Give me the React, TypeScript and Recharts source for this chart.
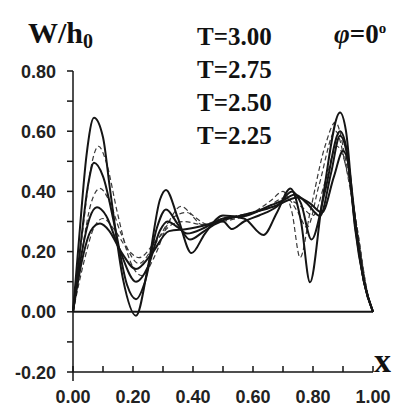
import { LineChart, Line, XAxis, YAxis, ReferenceLine } from "recharts";

// solid curves, ordered from the most oscillating to the flattest
const aX = [0, 0.02, 0.045, 0.07, 0.1, 0.123, 0.167, 0.21, 0.25, 0.29, 0.31, 0.35, 0.395, 0.44, 0.5, 0.57, 0.635, 0.68, 0.725, 0.76, 0.79, 0.83, 0.89, 0.91, 0.94, 0.97, 1.0];
const aY = [0, 0.24, 0.52, 0.645, 0.58, 0.41, 0.107, -0.013, 0.15, 0.373, 0.405, 0.31, 0.195, 0.26, 0.32, 0.31, 0.255, 0.33, 0.41, 0.3, 0.098, 0.36, 0.662, 0.6, 0.28, 0.1, 0];

const bX = [0, 0.025, 0.05, 0.07, 0.1, 0.14, 0.18, 0.21, 0.24, 0.28, 0.31, 0.35, 0.39, 0.44, 0.5, 0.53, 0.57, 0.62, 0.68, 0.73, 0.76, 0.795, 0.84, 0.89, 0.91, 0.94, 0.97, 1.0];
const bY = [0, 0.22, 0.42, 0.495, 0.45, 0.28, 0.09, 0.042, 0.1, 0.28, 0.34, 0.29, 0.24, 0.27, 0.3, 0.275, 0.3, 0.32, 0.35, 0.4, 0.36, 0.24, 0.4, 0.6, 0.55, 0.29, 0.1, 0];

const cX = [0, 0.03, 0.055, 0.08, 0.11, 0.15, 0.21, 0.25, 0.29, 0.315, 0.35, 0.38, 0.44, 0.5, 0.58, 0.65, 0.7, 0.74, 0.78, 0.823, 0.86, 0.89, 0.91, 0.94, 0.97, 1.0];
const cY = [0, 0.2, 0.31, 0.347, 0.32, 0.22, 0.1, 0.15, 0.27, 0.3, 0.28, 0.26, 0.28, 0.31, 0.32, 0.35, 0.37, 0.39, 0.36, 0.318, 0.46, 0.585, 0.54, 0.3, 0.1, 0];

const dX = [0, 0.03, 0.06, 0.09, 0.12, 0.16, 0.21, 0.26, 0.32, 0.38, 0.45, 0.52, 0.6, 0.67, 0.75, 0.79, 0.83, 0.87, 0.9, 0.92, 0.94, 0.97, 1.0];
const dY = [0, 0.17, 0.27, 0.293, 0.27, 0.2, 0.142, 0.19, 0.268, 0.275, 0.29, 0.31, 0.33, 0.35, 0.38, 0.36, 0.33, 0.45, 0.534, 0.48, 0.31, 0.1, 0];

// dashed curves
const eX = [0, 0.03, 0.06, 0.085, 0.11, 0.15, 0.19, 0.23, 0.27, 0.32, 0.36, 0.4, 0.45, 0.52, 0.6, 0.66, 0.7, 0.73, 0.757, 0.79, 0.84, 0.875, 0.91, 0.95, 0.98, 1.0];
const eY = [0, 0.25, 0.48, 0.55, 0.5, 0.32, 0.17, 0.12, 0.18, 0.3, 0.35, 0.32, 0.29, 0.31, 0.33, 0.37, 0.4, 0.33, 0.18, 0.33, 0.55, 0.63, 0.5, 0.26, 0.07, 0];

const fX = [0, 0.03, 0.06, 0.09, 0.12, 0.16, 0.22, 0.27, 0.33, 0.38, 0.43, 0.5, 0.58, 0.65, 0.71, 0.75, 0.78, 0.82, 0.875, 0.91, 0.95, 0.98, 1.0];
const fY = [0, 0.2, 0.36, 0.41, 0.37, 0.26, 0.16, 0.22, 0.31, 0.33, 0.29, 0.3, 0.32, 0.35, 0.38, 0.33, 0.28, 0.42, 0.6, 0.48, 0.25, 0.07, 0];

const gX = [0, 0.04, 0.07, 0.1, 0.14, 0.18, 0.22, 0.28, 0.33, 0.37, 0.43, 0.5, 0.6, 0.67, 0.72, 0.76, 0.8, 0.84, 0.88, 0.92, 0.95, 0.98, 1.0];
const gY = [0, 0.18, 0.28, 0.31, 0.27, 0.21, 0.18, 0.24, 0.29, 0.3, 0.29, 0.31, 0.33, 0.35, 0.37, 0.35, 0.32, 0.43, 0.55, 0.44, 0.26, 0.07, 0];

const xTicks = [0, 0.1, 0.2, 0.3, 0.4, 0.5, 0.6, 0.7, 0.8, 0.9, 1.0];
const yTicks = [-0.2, -0.1, 0, 0.1, 0.2, 0.3, 0.4, 0.5, 0.6, 0.7, 0.8];
const legendLabels = ["T=3.00", "T=2.75", "T=2.50", "T=2.25"];

const pts = (xs: number[], ys: number[]) => xs.map((x, i) => ({ x, y: ys[i] }));

const solid = [pts(aX, aY), pts(bX, bY), pts(cX, cY), pts(dX, dY)];
const dashed = [pts(eX, eY), pts(fX, fY), pts(gX, gY)];

const INK = "#151515";
const tickFont = "'Liberation Sans', Arial, sans-serif";
const serif = "'Liberation Serif', 'Times New Roman', serif";

const isMajor = (v: number) => Math.round(v * 10) % 2 === 0;

function YTick({ x, y, payload }: any) {
  const v = payload.value as number;
  return (
    <g>
      <line x1={x - 6} x2={x} y1={y} y2={y} stroke={INK} strokeWidth={1.5} />
      {isMajor(v) && (
        <text x={x - 17} y={y + 6.5} textAnchor="end" fontFamily={tickFont} fontWeight="bold" fontSize={18} fill="#222">
          {v.toFixed(2)}
        </text>
      )}
    </g>
  );
}

function XTick({ x, y, payload }: any) {
  const v = payload.value as number;
  return (
    <g>
      <line x1={x} x2={x} y1={y - 6} y2={v === 0 ? y + 9 : y} stroke={INK} strokeWidth={1.5} />
      {isMajor(v) && (
        <text x={x} y={y + 31} textAnchor="middle" fontFamily={tickFont} fontWeight="bold" fontSize={18} fill="#222">
          {v.toFixed(2)}
        </text>
      )}
    </g>
  );
}

export default function App() {
  return (
    <div style={{ position: "absolute", left: 0, top: 0, width: 402, height: 408, background: "#fff" }}>
      <LineChart width={402} height={408} margin={{ top: 71, right: 29, bottom: 0, left: 0 }}>
        <XAxis
          type="number"
          dataKey="x"
          domain={[0, 1]}
          ticks={xTicks}
          interval={0}
          height={36}
          tickSize={0}
          tickMargin={0}
          tick={<XTick />}
          axisLine={{ stroke: INK, strokeWidth: 1.5 }}
          allowDuplicatedCategory={false}
        />
        <YAxis
          type="number"
          dataKey="y"
          domain={[-0.2, 0.8]}
          ticks={yTicks}
          interval={0}
          width={73}
          tickSize={0}
          tickMargin={0}
          tick={<YTick />}
          axisLine={{ stroke: INK, strokeWidth: 1.5 }}
          allowDataOverflow
        />
        <ReferenceLine y={0} stroke={INK} strokeWidth={2} />
        {dashed.map((d, i) => (
          <Line
            key={"d" + i}
            data={d}
            dataKey="y"
            type="monotone"
            stroke="#3a3a3a"
            strokeWidth={1.2}
            strokeDasharray="5 3"
            dot={false}
            isAnimationActive={false}
          />
        ))}
        {solid.map((d, i) => (
          <Line
            key={"s" + i}
            data={d}
            dataKey="y"
            type="monotone"
            stroke={INK}
            strokeWidth={2}
            dot={false}
            isAnimationActive={false}
          />
        ))}
      </LineChart>
      <svg width={402} height={408} style={{ position: "absolute", left: 0, top: 0, pointerEvents: "none" }}>
        <text x={28} y={43} fontFamily={serif} fontWeight="bold" fontSize={30} fill="#111">
          W/h<tspan fontSize={20} dy={5}>0</tspan>
        </text>
        {legendLabels.map((t, i) => (
          <text key={t} x={197} y={45 + i * 33} fontFamily={serif} fontWeight="bold" fontSize={25} fill="#111">
            {t}
          </text>
        ))}
        <text x={334} y={43} fontFamily={serif} fontWeight="bold" fontSize={27} fill="#111">
          <tspan fontStyle="italic">φ</tspan>=0<tspan fontSize={15} dy={-10}>o</tspan>
        </text>
        <text x={374} y={372} fontFamily={serif} fontWeight="bold" fontSize={34} fill="#111">
          x
        </text>
      </svg>
    </div>
  );
}
